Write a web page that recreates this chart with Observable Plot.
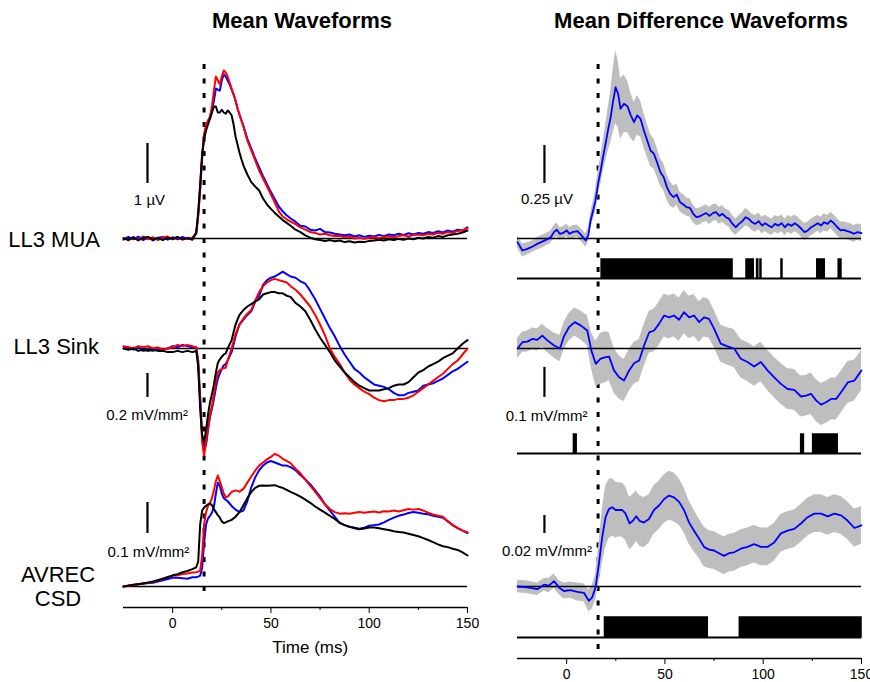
<!DOCTYPE html>
<html><head><meta charset="utf-8">
<script src="https://cdn.jsdelivr.net/npm/d3@7"></script>
<script src="https://cdn.jsdelivr.net/npm/@observablehq/plot@0.6"></script>
<style>
body{margin:0;background:#fff;}
#fig{position:relative;width:870px;height:682px;overflow:hidden;background:#fff;font-family:"Liberation Sans",Arial,sans-serif;color:#000;}
#fig svg{position:absolute;left:0;top:0;}
.lbl{position:absolute;white-space:nowrap;line-height:22px;font-size:22px;}
</style></head><body>
<div id="fig">
<div class="lbl" style="left:302px;top:10px;transform:translateX(-50%);font-weight:bold;">Mean Waveforms</div>
<div class="lbl" style="left:701px;top:10px;transform:translateX(-50%);font-weight:bold;">Mean Difference Waveforms</div>
<div class="lbl" style="right:770px;top:229px;">LL3 MUA</div>
<div class="lbl" style="right:771px;top:336px;">LL3 Sink</div>
<div class="lbl" style="left:58px;top:564px;transform:translateX(-50%);">AVREC</div>
<div class="lbl" style="left:58px;top:588px;transform:translateX(-50%);">CSD</div>
</div>
<script>
// ---------------- DATA ----------------
// Left column: mean waveforms (blue, red, black)
const muaT = [-25,-22.5,-20,-17.5,-15,-12.5,-10,-7.5,-5,-2.5,0,2.5,5,7.5,10,
  12,13,14,15,16,17,18,19,20,21,22,23,24,25,26,27,28,29,30,31,32,33,34,35,36,
  38,40,42,44,46,48,50,52,54,56,58,60,
  62.5,65,67.5,70,72.5,75,77.5,80,82.5,85,87.5,90,92.5,95,97.5,100,102.5,105,107.5,110,112.5,115,117.5,120,122.5,125,127.5,130,132.5,135,137.5,140,142.5,145,147.5,150];
const muaRed = [0.02,-0.05,0.04,-0.03,0.05,-0.02,0.03,-0.04,0.02,0.05,-0.02,0.03,-0.03,0.02,0.0,
  0.15,0.6,1.3,2.1,2.6,2.85,2.95,3.05,3.3,3.7,4.05,3.95,3.85,4.05,4.2,4.15,4.05,3.9,3.75,3.6,3.45,3.25,3.1,2.95,2.8,
  2.45,2.2,1.95,1.7,1.5,1.3,1.1,0.9,0.68,0.55,0.48,0.42,
  0.36,0.28,0.22,0.16,0.14,0.1,0.12,0.08,0.06,0.07,0.03,0.05,0.0,0.02,-0.01,0.02,0.03,0.01,0.04,0.05,0.03,0.06,0.08,0.05,0.09,0.1,0.08,0.12,0.1,0.14,0.12,0.16,0.14,0.19,0.2,0.26];
const muaBlue = [-0.03,0.04,-0.02,0.05,-0.04,0.03,-0.05,0.02,0.04,-0.03,0.03,-0.02,0.04,-0.01,0.02,
  0.12,0.55,1.2,2.0,2.55,2.8,2.9,3.0,3.2,3.45,3.75,3.72,3.7,3.95,4.1,4.05,3.95,3.85,3.72,3.6,3.45,3.25,3.1,2.95,2.82,
  2.5,2.25,2.0,1.78,1.56,1.36,1.16,0.98,0.8,0.68,0.58,0.5,
  0.42,0.32,0.3,0.22,0.2,0.24,0.16,0.15,0.12,0.1,0.08,0.1,0.05,0.08,0.04,0.07,0.05,0.09,0.06,0.1,0.08,0.12,0.09,0.13,0.1,0.14,0.12,0.16,0.14,0.18,0.15,0.2,0.17,0.22,0.2,0.28];
const muaBlack = [0.0,-0.03,0.03,-0.05,0.02,0.04,-0.03,0.01,-0.04,0.02,-0.01,0.04,-0.02,0.01,-0.03,
  0.15,0.65,1.35,2.1,2.5,2.7,2.85,3.0,3.15,3.3,3.3,3.15,3.15,3.22,3.15,3.12,3.2,3.15,3.08,2.85,2.55,2.35,2.15,1.98,1.83,
  1.6,1.41,1.3,1.2,1.0,0.85,0.74,0.64,0.55,0.46,0.39,0.32,
  0.22,0.16,0.08,0.02,-0.02,-0.04,-0.06,-0.04,-0.07,-0.05,-0.09,-0.07,-0.1,-0.08,-0.09,-0.06,-0.05,-0.03,-0.05,-0.02,-0.04,-0.01,-0.03,0.0,-0.02,0.02,0.0,0.04,0.02,0.06,0.04,0.08,0.1,0.12,0.15,0.2];

const sinkT = [-25,-22.5,-20,-17.5,-15,-12.5,-10,-7.5,-5,-2.5,0,2.5,5,7.5,10,12,
  13,14,15,16,17,18,19,20,21,22,23,24,25,26,27,28,
  30,32,34,36,38,40,42,44,46,48,50,52,54,56,58,60,
  62.5,65,67.5,70,72.5,75,77.5,80,82.5,85,87.5,90,92.5,95,97.5,100,102.5,105,107.5,110,112.5,115,117.5,120,122.5,125,127.5,130,132.5,135,137.5,140,142.5,145,147.5,150];
const sinkRed = [0.02,0.01,0.0,0.02,0.01,0.02,0.0,0.01,-0.01,0.0,0.01,0.03,0.02,0.03,0.02,0.01,
  -0.12,-0.45,-0.78,-0.89,-0.78,-0.65,-0.55,-0.48,-0.38,-0.28,-0.2,-0.18,-0.17,-0.165,-0.16,-0.1,
  0.0,0.12,0.2,0.25,0.29,0.32,0.4,0.47,0.52,0.55,0.57,0.58,0.57,0.56,0.55,0.52,
  0.49,0.45,0.4,0.35,0.28,0.2,0.11,0.0,-0.07,-0.13,-0.2,-0.26,-0.3,-0.33,-0.36,-0.38,-0.41,-0.43,-0.44,-0.43,-0.43,-0.42,-0.42,-0.41,-0.39,-0.36,-0.33,-0.3,-0.27,-0.24,-0.21,-0.17,-0.13,-0.1,-0.05,0.0];
const sinkBlue = [0.0,0.01,-0.01,0.01,-0.02,-0.01,-0.02,0.0,-0.01,0.0,0.02,0.01,0.03,0.02,0.01,0.01,
  -0.1,-0.4,-0.72,-0.85,-0.8,-0.68,-0.57,-0.5,-0.42,-0.33,-0.25,-0.21,-0.17,-0.14,-0.13,-0.1,
  -0.03,0.1,0.2,0.24,0.28,0.31,0.39,0.44,0.53,0.57,0.59,0.6,0.62,0.64,0.62,0.6,
  0.59,0.56,0.54,0.48,0.41,0.33,0.25,0.17,0.1,0.02,-0.05,-0.11,-0.17,-0.2,-0.24,-0.27,-0.3,-0.31,-0.32,-0.34,-0.37,-0.39,-0.39,-0.37,-0.36,-0.35,-0.31,-0.3,-0.29,-0.27,-0.25,-0.22,-0.19,-0.17,-0.14,-0.11];
const sinkBlack = [0.0,-0.01,0.0,-0.02,-0.01,-0.02,-0.01,-0.02,-0.02,-0.03,-0.03,-0.02,-0.03,-0.02,-0.03,-0.02,
  -0.15,-0.5,-0.72,-0.78,-0.68,-0.55,-0.45,-0.38,-0.3,-0.2,-0.12,-0.09,-0.07,-0.05,-0.04,0.0,
  0.07,0.2,0.28,0.32,0.35,0.37,0.39,0.41,0.45,0.46,0.47,0.47,0.46,0.46,0.44,0.43,
  0.38,0.35,0.31,0.24,0.16,0.09,0.03,-0.03,-0.1,-0.15,-0.2,-0.24,-0.28,-0.31,-0.33,-0.35,-0.35,-0.35,-0.34,-0.33,-0.31,-0.3,-0.3,-0.28,-0.24,-0.2,-0.18,-0.15,-0.13,-0.11,-0.08,-0.06,-0.04,0.0,0.04,0.07];

const avrecT = [-25,-20,-15,-10,-5,0,2.5,5,7.5,10,12,
  13,14,15,16,17,18,19,20,21,22,23,24,25,26,27,28,
  30,32,34,36,38,40,42,44,46,48,50,52,54,56,58,60,
  62.5,65,67.5,70,72.5,75,77.5,80,82.5,85,87.5,90,92.5,95,97.5,100,102.5,105,107.5,110,112.5,115,117.5,120,122.5,125,127.5,130,132.5,135,137.5,140,142.5,145,147.5,150];
const avrecRed = [0.0,0.005,0.01,0.014,0.025,0.035,0.036,0.04,0.042,0.045,0.046,
  0.048,0.05,0.1,0.2,0.24,0.26,0.27,0.285,0.31,0.34,0.358,0.34,0.32,0.3,0.288,0.29,
  0.305,0.31,0.306,0.315,0.335,0.355,0.374,0.39,0.4,0.41,0.418,0.428,0.422,0.412,0.405,0.398,
  0.38,0.365,0.345,0.325,0.305,0.285,0.265,0.25,0.24,0.235,0.236,0.235,0.238,0.24,0.238,0.24,0.242,0.239,0.243,0.242,0.245,0.242,0.246,0.25,0.248,0.25,0.245,0.238,0.232,0.228,0.225,0.21,0.198,0.188,0.18,0.175];
const avrecBlue = [0.0,0.005,0.01,0.012,0.02,0.028,0.028,0.027,0.025,0.03,0.03,
  0.032,0.035,0.06,0.14,0.2,0.22,0.228,0.238,0.258,0.3,0.335,0.325,0.3,0.285,0.28,0.275,
  0.26,0.248,0.24,0.245,0.275,0.32,0.352,0.375,0.39,0.4,0.405,0.4,0.395,0.39,0.39,0.385,
  0.375,0.36,0.345,0.33,0.31,0.29,0.265,0.245,0.225,0.205,0.198,0.192,0.19,0.186,0.19,0.196,0.198,0.2,0.207,0.215,0.222,0.228,0.232,0.237,0.24,0.238,0.235,0.233,0.228,0.225,0.222,0.21,0.198,0.188,0.18,0.172];
const avrecBlack = [0.0,0.006,0.01,0.016,0.025,0.036,0.04,0.046,0.05,0.056,0.062,
  0.08,0.2,0.245,0.255,0.26,0.265,0.268,0.262,0.25,0.24,0.23,0.222,0.21,0.205,0.207,0.21,
  0.215,0.225,0.24,0.262,0.285,0.305,0.318,0.325,0.326,0.325,0.326,0.327,0.322,0.318,0.312,0.305,
  0.298,0.29,0.28,0.27,0.258,0.248,0.238,0.228,0.218,0.205,0.198,0.193,0.188,0.185,0.187,0.19,0.19,0.188,0.185,0.182,0.178,0.176,0.174,0.17,0.166,0.162,0.156,0.15,0.143,0.136,0.13,0.127,0.122,0.118,0.11,0.1];

// Right column: mean difference waveforms with SEM band
const dMuaT = [-25,-22.5,-20,-18,-15.5,-13,-10.5,-8,-6.5,-5,-3.5,-2,0,1.5,3,5.5,7.5,9.7,11,12.2,
  13.5,14.7,16,17.3,18.5,19.8,21,22.4,23.7,24.9,26.2,27.4,29.2,31,32.6,34.3,35.9,37.6,39.3,41,
  42.7,44.4,46,47.7,49.4,51,52.7,54.4,56,57.7,59.4,61,62.7,64.4,66,67.7,69.4,71,72.7,74.4,
  76,77.7,79.3,81,82.7,84.4,86,87.7,89.4,91,92.7,94.3,96,97.7,99.4,101,102.7,104.4,106,107.7,
  109.4,111,112.7,114.4,116,117.7,119.4,121,122.7,124.4,126,127.7,129.4,131,132.7,134.4,136,137.7,139.4,141,
  142.7,144.4,146,148,150];
const dMuaMean = [-0.024,-0.079,-0.068,-0.057,-0.039,-0.024,-0.009,0.009,0.042,0.057,0.031,0.035,0.053,0.031,0.042,0.048,0.02,-0.013,0.02,0.118,
  0.184,0.25,0.36,0.447,0.535,0.623,0.711,0.798,0.908,0.995,0.952,0.853,0.886,0.868,0.81,0.765,0.81,0.787,0.711,0.645,
  0.579,0.557,0.502,0.436,0.403,0.338,0.294,0.272,0.289,0.239,0.224,0.206,0.202,0.162,0.14,0.145,0.158,0.167,0.149,0.167,
  0.173,0.149,0.162,0.14,0.129,0.096,0.074,0.096,0.114,0.14,0.129,0.107,0.096,0.114,0.085,0.1,0.085,0.074,0.096,0.085,
  0.1,0.074,0.096,0.083,0.1,0.085,0.064,0.042,0.053,0.074,0.085,0.1,0.085,0.107,0.096,0.118,0.1,0.074,0.053,0.057,
  0.048,0.042,0.031,0.042,0.035];
const dMuaSem = [0.04,0.042,0.04,0.038,0.04,0.042,0.04,0.04,0.042,0.045,0.042,0.04,0.042,0.04,0.042,0.04,0.042,0.045,0.045,0.05,
  0.06,0.07,0.08,0.09,0.1,0.12,0.14,0.17,0.21,0.24,0.22,0.2,0.19,0.17,0.15,0.13,0.13,0.12,0.115,0.11,
  0.105,0.1,0.095,0.09,0.09,0.085,0.08,0.075,0.07,0.065,0.065,0.06,0.06,0.058,0.055,0.056,0.054,0.055,0.057,0.055,
  0.054,0.056,0.055,0.053,0.055,0.056,0.055,0.054,0.055,0.057,0.055,0.054,0.055,0.056,0.055,0.054,0.055,0.053,0.055,0.056,
  0.055,0.054,0.055,0.057,0.055,0.054,0.055,0.056,0.055,0.054,0.055,0.053,0.055,0.056,0.055,0.054,0.055,0.057,0.055,0.054,
  0.055,0.056,0.055,0.054,0.055];

const dSinkT = [-25,-22.5,-20,-17.4,-14.9,-12.4,-9.8,-6.4,-3.4,-1.4,1.2,4.1,7.1,10.5,12.6,14.8,17.3,19.9,21.6,24.1,
  26.7,29.2,31.8,34.3,36.9,39.4,42,44.5,47,49.6,52.1,54.6,57.2,59.7,62.3,64.8,67.4,69.9,72.4,75,
  78.4,81.8,85.2,88.6,92,95.4,98.8,102.2,105.6,109,112.4,115.8,119.2,121.8,124.3,126.9,129.4,132,134.5,137.1,
  139.6,143,146.4,150];
const dSinkMean = [0.0,0.021,0.023,0.032,0.029,0.043,0.027,0.01,0.0,0.04,0.071,0.088,0.077,0.06,-0.007,-0.051,-0.034,-0.029,-0.027,-0.073,
  -0.096,-0.107,-0.073,-0.049,-0.04,0.01,0.054,0.06,0.082,0.11,0.104,0.11,0.096,0.121,0.104,0.11,0.088,0.104,0.099,0.066,
  0.016,0.007,0.0,-0.034,-0.045,-0.06,-0.045,-0.073,-0.096,-0.118,-0.135,-0.138,-0.16,-0.157,-0.151,-0.173,-0.187,-0.179,-0.168,-0.168,
  -0.146,-0.113,-0.107,-0.073];
const dSinkSem = [0.033,0.034,0.035,0.036,0.037,0.038,0.04,0.042,0.044,0.045,0.046,0.047,0.048,0.05,0.06,0.075,0.085,0.085,0.08,0.075,
  0.072,0.07,0.07,0.07,0.07,0.07,0.07,0.071,0.072,0.072,0.072,0.072,0.072,0.072,0.071,0.07,0.068,0.066,0.064,0.062,
  0.062,0.062,0.063,0.064,0.065,0.066,0.066,0.067,0.067,0.068,0.068,0.068,0.068,0.068,0.069,0.07,0.07,0.07,0.07,0.07,
  0.07,0.07,0.068,0.067];

const dAvrecT = [-25,-20,-14.9,-11.5,-9,-6.4,-3.9,-1.4,2,5.4,8.8,11.3,13,14.7,16.4,18.1,19.8,21.5,23.2,24.9,
  26.6,28.3,30,32,33.7,35.4,37.1,39.3,41.9,44.4,47,49.5,52.1,54.6,57.2,59.7,62.3,64.8,67.4,69.9,
  72.4,75,77.5,80.1,82.6,85.2,88.6,92,95.4,98.8,102.2,105.6,109,112.4,115.8,119.2,122.6,126,129.4,132.8,
  136.2,139.6,143,146.4,150];
const dAvrecMean = [0.0,-0.001,-0.003,0.002,0.001,0.006,-0.001,-0.005,-0.004,-0.006,-0.007,-0.016,-0.012,-0.001,0.025,0.055,0.077,0.086,0.088,0.085,
  0.085,0.085,0.081,0.07,0.073,0.078,0.073,0.071,0.075,0.085,0.09,0.097,0.101,0.099,0.094,0.085,0.071,0.062,0.053,0.044,
  0.041,0.04,0.037,0.034,0.037,0.038,0.042,0.044,0.047,0.044,0.044,0.049,0.059,0.062,0.064,0.07,0.077,0.081,0.081,0.078,
  0.081,0.079,0.073,0.065,0.068];
const dAvrecSem = [0.007,0.007,0.007,0.007,0.008,0.008,0.008,0.009,0.009,0.01,0.01,0.012,0.013,0.015,0.022,0.03,0.034,0.033,0.032,0.031,
  0.03,0.03,0.03,0.029,0.029,0.028,0.028,0.028,0.027,0.027,0.027,0.027,0.027,0.027,0.026,0.025,0.024,0.023,0.022,0.022,
  0.021,0.021,0.021,0.021,0.021,0.021,0.021,0.021,0.021,0.021,0.021,0.021,0.021,0.021,0.021,0.021,0.021,0.021,0.021,0.021,
  0.021,0.021,0.021,0.021,0.021];

// Significant intervals (ms) below each difference panel
const sigMua = [[17.8,84.4],[91.5,95.2],[96.9,97.5],[98.6,99.1],[109.3,109.8],[127.5,129.1],[129.6,131.3],[138.4,139.8]];
const sigSink = [[3.7,5.1],[119.3,120.7],[125.4,137.9]];
const sigAvrec = [[19.5,71.8],[88.1,150]];

const timeTicks = [0, 50, 100, 150];
const minorTicks = [25, 75, 125];
const stimOnset = 16;

// ---------------- LAYOUT ----------------
const W = 870, H = 682;
const LEFT = [123, 467], RIGHT = [517, 861];
const FONT = "'Liberation Sans',Arial,sans-serif";
const fig = document.getElementById("fig");

function frame(xr, top, bottom, ydom, marks) {
  const svg = Plot.plot({
    width: W, height: H,
    marginLeft: xr[0], marginRight: W - xr[1],
    marginTop: top, marginBottom: H - bottom,
    x: {domain: [-25, 150], axis: null},
    y: {domain: ydom, axis: null},
    style: `background:none;overflow:visible;font-family:${FONT};font-size:14px;`,
    marks
  });
  fig.appendChild(svg);
}
function panel(xr, y0, k, lo, hi, marks) {
  frame(xr, y0 - hi * k, y0 - lo * k, [lo, hi], marks);
}
const zip3 = (T, b, r, k) => T.map((t, i) => ({t, blue: b[i], red: r[i], black: k[i]}));
const zipD = (T, m, s) => T.map((t, i) => ({t, m: m[i], lo: m[i] - s[i], hi: m[i] + s[i]}));

function meanMarks(data, bar, label) {
  return [
    Plot.ruleY([0], {strokeWidth: 1.6}),
    Plot.lineY(data, {x: "t", y: "blue", stroke: "#0000ff", strokeWidth: 2}),
    Plot.lineY(data, {x: "t", y: "red", stroke: "#ff0000", strokeWidth: 2}),
    Plot.lineY(data, {x: "t", y: "black", stroke: "#000000", strokeWidth: 2}),
    Plot.ruleX([bar], {x: "x", y1: "y1", y2: "y2", strokeWidth: 2.2}),
    Plot.text([label], {x: "x", y: "y", text: "text", fontSize: 15})
  ];
}
function diffMarks(data, bar, label) {
  return [
    Plot.areaY(data, {x: "t", y1: "lo", y2: "hi", fill: "#bebebe"}),
    Plot.ruleY([0], {strokeWidth: 1.6}),
    Plot.lineY(data, {x: "t", y: "m", stroke: "#0000ff", strokeWidth: 1.8}),
    Plot.ruleX([bar], {x: "x", y1: "y1", y2: "y2", strokeWidth: 2.2}),
    Plot.text([label], {x: "x", y: "y", text: "text", fontSize: 15})
  ];
}

// stimulus-onset dotted lines
frame(LEFT, 64, 598, [0, 1], [Plot.ruleX([stimOnset], {strokeWidth: 3, strokeDasharray: "5,9.5"})]);
frame(RIGHT, 64, 651, [0, 1], [Plot.ruleX([stimOnset], {strokeWidth: 3, strokeDasharray: "5,9.5"})]);

// left panels
panel(LEFT, 238, 40, -1, 4.5, meanMarks(zip3(muaT, muaBlue, muaRed, muaBlack),
  {x: -12.8, y1: 1.375, y2: 2.375}, {x: -11.8, y: 0.95, text: "1 µV"}));
panel(LEFT, 348, 120, -1, 0.8, meanMarks(zip3(sinkT, sinkBlue, sinkRed, sinkBlack),
  {x: -12.8, y1: -0.208, y2: -0.408}, {x: -13, y: -0.555, text: "0.2 mV/mm²"}));
panel(LEFT, 586, 310, -0.05, 0.5, meanMarks(zip3(avrecT, avrecBlue, avrecRed, avrecBlack),
  {x: -12.8, y1: 0.171, y2: 0.271}, {x: -12.3, y: 0.11, text: "0.1 mV/mm²"}));

// right panels
panel(RIGHT, 238, 152, -0.2, 1.3, diffMarks(zipD(dMuaT, dMuaMean, dMuaSem),
  {x: -11.3, y1: 0.362, y2: 0.612}, {x: -10, y: 0.257, text: "0.25 µV"}));
panel(RIGHT, 348, 300, -0.3, 0.3, diffMarks(zipD(dSinkT, dSinkMean, dSinkSem),
  {x: -11.3, y1: -0.063, y2: -0.163}, {x: -10.2, y: -0.227, text: "0.1 mV/mm²"}));
panel(RIGHT, 586, 900, -0.03, 0.14, diffMarks(zipD(dAvrecT, dAvrecMean, dAvrecSem),
  {x: -11.3, y1: 0.0589, y2: 0.0789}, {x: -10, y: 0.0389, text: "0.02 mV/mm²"}));

// significance strips
function sig(top, base, intervals) {
  frame(RIGHT, top, base, [0, 1], [
    Plot.ruleY([0], {strokeWidth: 2}),
    Plot.rect(intervals, {x1: d => d[0], x2: d => d[1], y1: () => 0, y2: () => 1, fill: "black", stroke: "black", strokeWidth: 1.5})
  ]);
}
sig(259, 278, sigMua);
sig(434, 453, sigSink);
sig(617, 637, sigAvrec);

// x axes
frame(LEFT, 600, 607, [0, 1], [
  Plot.ruleY([0], {strokeWidth: 1.6}),
  Plot.axisX({ticks: timeTicks, tickSize: 6, tickPadding: 5, fontSize: 14, label: null}),
  Plot.axisX({ticks: minorTicks, tickSize: 3, tickFormat: () => "", label: null}),
  Plot.text(["Time (ms)"], {x: 70, frameAnchor: "bottom", dy: 45, fontSize: 17})
]);
frame(RIGHT, 651, 658, [0, 1], [
  Plot.ruleY([0], {strokeWidth: 1.6}),
  Plot.axisX({ticks: timeTicks, tickSize: 6, tickPadding: 5, fontSize: 14, label: null}),
  Plot.axisX({ticks: minorTicks, tickSize: 3, tickFormat: () => "", label: null})
]);
</script>
</body></html>
